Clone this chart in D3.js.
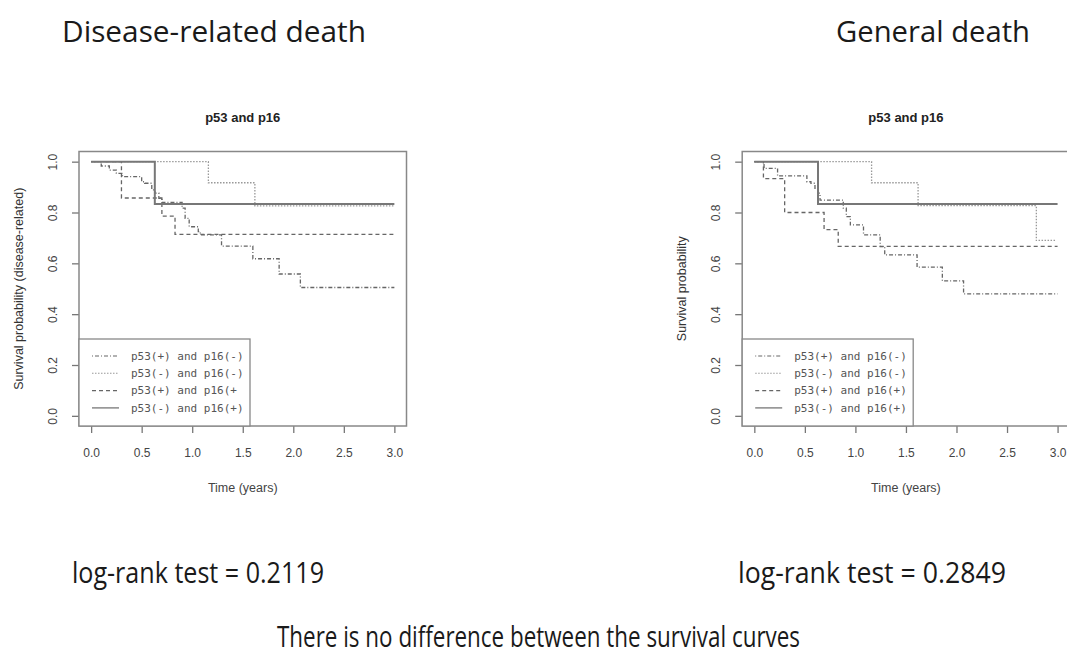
<!DOCTYPE html>
<html>
<head>
<meta charset="utf-8">
<script src="https://cdn.jsdelivr.net/npm/d3@7"></script>
<style>
body { margin: 0; background: #fff; }
svg { display: block; }
</style>
</head>
<body>
<svg id="chart" width="1067" height="655"></svg>
<script>
var d3 = window.d3;

// axis ticks
var timeTicks = [0, 0.5, 1, 1.5, 2, 2.5, 3];
var survTicks = [0, 0.2, 0.4, 0.6, 0.8, 1];

// legend labels (left one has the cut third label, as in the original)
var legendLeft = ['p53(+) and p16(-)', 'p53(-) and p16(-)', 'p53(+) and p16(+', 'p53(-) and p16(+)'];
var legendRight = ['p53(+) and p16(-)', 'p53(-) and p16(-)', 'p53(+) and p16(+)', 'p53(-) and p16(+)'];

// disease-related death: Kaplan-Meier steps (time in years, survival)
var drPosNegTime = [0, 0.10, 0.18, 0.25, 0.31, 0.50, 0.53, 0.60, 0.63, 0.67, 0.70, 0.90, 0.93, 0.97, 1.06, 1.08, 1.29, 1.60, 1.86, 2.07, 3.0];
var drPosNegSurv = [1, 0.983, 0.967, 0.954, 0.941, 0.921, 0.915, 0.889, 0.876, 0.856, 0.84, 0.817, 0.777, 0.744, 0.725, 0.712, 0.668, 0.618, 0.558, 0.505, 0.505];
var drNegNegTime = [0, 1.16, 1.62, 3.0];
var drNegNegSurv = [1, 0.917, 0.826, 0.826];
var drPosPosTime = [0, 0.30, 0.70, 0.83, 2.99];
var drPosPosSurv = [1, 0.857, 0.786, 0.714, 0.714];
var drNegPosTime = [0, 0.63, 3.0];
var drNegPosSurv = [1, 0.833, 0.833];

// general death
var gdPosNegTime = [0, 0.096, 0.23, 0.52, 0.56, 0.60, 0.63, 0.65, 0.88, 0.91, 0.95, 1.08, 1.245, 1.29, 1.61, 1.86, 2.07, 3.0];
var gdPosNegSurv = [1, 0.974, 0.944, 0.921, 0.915, 0.895, 0.876, 0.849, 0.817, 0.784, 0.751, 0.712, 0.666, 0.633, 0.585, 0.531, 0.48, 0.48];
var gdNegNegTime = [0, 1.16, 1.62, 2.79, 2.99];
var gdNegNegSurv = [1, 0.917, 0.827, 0.69, 0.69];
var gdPosPosTime = [0, 0.09, 0.30, 0.69, 0.83, 3.0];
var gdPosPosSurv = [1, 0.933, 0.80, 0.733, 0.667, 0.667];
var gdNegPosTime = [0, 0.63, 3.0];
var gdNegPosSurv = [1, 0.833, 0.833];

// R lty 4, 3, 2, 1
var lineStyles = [
  { dash: '1,2,4,2', width: 1.3, color: '#666' },
  { dash: '1.5,1.5', width: 1.3, color: '#999' },
  { dash: '4,3', width: 1.3, color: '#666' },
  { dash: null, width: 2, color: '#777' }
];

var svg = d3.select('#chart');

function drawPanel(opts) {
  var g = svg.append('g')
    .attr('transform', 'translate(' + opts.left + ',' + opts.top + ')');

  // R pads the data range by 4%
  var x = d3.scaleLinear().domain([-0.12, 3.12]).range([0, opts.width]);
  var y = d3.scaleLinear().domain([-0.04, 1.04]).range([opts.height, 0]);

  var line = d3.line()
    .x(function(d) { return x(d[0]); })
    .y(function(d) { return y(d[1]); })
    .curve(d3.curveStepAfter);

  g.selectAll('path.km')
    .data(opts.series)
    .enter().append('path')
    .attr('class', 'km')
    .attr('fill', 'none')
    .attr('d', function(d) { return line(d3.zip(d.time, d.surv)); })
    .attr('stroke', function(d, i) { return lineStyles[i].color; })
    .attr('stroke-width', function(d, i) { return lineStyles[i].width; })
    .attr('stroke-dasharray', function(d, i) { return lineStyles[i].dash; });

  var yAxis = g.append('g')
    .call(d3.axisLeft(y).tickValues(survTicks).tickSize(7).tickFormat(d3.format('.1f')));
  var xAxis = g.append('g')
    .attr('transform', 'translate(0,' + opts.height + ')')
    .call(d3.axisBottom(x).tickValues(timeTicks).tickSize(7).tickPadding(15).tickFormat(d3.format('.1f')));

  [yAxis, xAxis].forEach(function(a) {
    a.select('.domain').remove();
    a.selectAll('.tick line').attr('stroke', '#777').attr('stroke-width', 1.3);
    a.selectAll('.tick text')
      .attr('fill', '#444')
      .style('font-family', '"Liberation Sans", Arial, sans-serif')
      .style('font-size', '12px');
  });
  yAxis.selectAll('.tick text')
    .attr('x', 0).attr('dy', 0)
    .attr('text-anchor', 'middle')
    .attr('transform', 'translate(-22,0) rotate(-90)');

  g.append('rect')
    .attr('width', opts.width).attr('height', opts.height)
    .attr('fill', 'none').attr('stroke', '#888').attr('stroke-width', 1.5);

  // legend, bottom-left
  var leg = g.append('g').attr('transform', 'translate(0,' + (opts.height - 87) + ')');
  leg.append('rect')
    .attr('width', 171).attr('height', 87)
    .attr('fill', '#fff').attr('stroke', '#888').attr('stroke-width', 1.3);
  var rows = leg.selectAll('g.row')
    .data(opts.labels)
    .enter().append('g')
    .attr('class', 'row')
    .attr('transform', function(d, i) { return 'translate(0,' + (17 + i * 17.3) + ')'; });
  rows.append('line')
    .attr('x1', 13).attr('x2', 40)
    .attr('stroke', function(d, i) { return lineStyles[i].color; })
    .attr('stroke-width', function(d, i) { return i === 3 ? 1.3 : 1.1; })
    .attr('stroke-dasharray', function(d, i) { return lineStyles[i].dash; });
  rows.append('text')
    .attr('x', 52).attr('dy', '0.35em')
    .attr('fill', '#555')
    .style('font-family', '"DejaVu Sans Mono", monospace')
    .style('font-size', '11px')
    .text(function(d) { return d; });

  g.append('text')
    .attr('x', x(1.5)).attr('y', -30)
    .attr('text-anchor', 'middle')
    .attr('fill', '#222')
    .style('font-family', '"Liberation Sans", Arial, sans-serif')
    .style('font-size', '13px').style('font-weight', 'bold')
    .text('p53 and p16');

  g.append('text')
    .attr('x', x(1.5)).attr('y', opts.height + 66)
    .attr('text-anchor', 'middle')
    .attr('fill', '#444')
    .style('font-family', '"Liberation Sans", Arial, sans-serif')
    .style('font-size', '12.5px')
    .text('Time (years)');

  g.append('text')
    .attr('transform', 'translate(-56,' + (opts.height / 2) + ') rotate(-90)')
    .attr('text-anchor', 'middle')
    .attr('fill', '#333')
    .style('font-family', '"Liberation Sans", Arial, sans-serif')
    .style('font-size', '12.5px')
    .text(opts.ylabel);
}

drawPanel({
  left: 79, top: 151.5, width: 327.5, height: 274.5,
  ylabel: 'Survival probability (disease-related)',
  labels: legendLeft,
  series: [
    { time: drPosNegTime, surv: drPosNegSurv },
    { time: drNegNegTime, surv: drNegNegSurv },
    { time: drPosPosTime, surv: drPosPosSurv },
    { time: drNegPosTime, surv: drNegPosSurv }
  ]
});

drawPanel({
  left: 742.2, top: 151.5, width: 327.5, height: 274.5,
  ylabel: 'Survival probability',
  labels: legendRight,
  series: [
    { time: gdPosNegTime, surv: gdPosNegSurv },
    { time: gdNegNegTime, surv: gdNegNegSurv },
    { time: gdPosPosTime, surv: gdPosPosSurv },
    { time: gdNegPosTime, surv: gdNegPosSurv }
  ]
});

// slide text around the two plots
var notes = [
  { text: 'Disease-related death', x: 62, y: 42, w: 304 },
  { text: 'General death', x: 836, y: 42, w: 194 },
  { text: 'log-rank test = 0.2119', x: 72, y: 583, w: 252 },
  { text: 'log-rank test = 0.2849', x: 738, y: 583, w: 268 },
  { text: 'There is no difference between the survival curves', x: 277, y: 647, w: 523 }
];
svg.selectAll('text.note')
  .data(notes)
  .enter().append('text')
  .attr('class', 'note')
  .attr('x', function(d) { return d.x; })
  .attr('y', function(d) { return d.y; })
  .attr('textLength', function(d) { return d.w; })
  .attr('lengthAdjust', 'spacingAndGlyphs')
  .attr('fill', '#1a1a1a')
  .style('font-family', '"Open Sans", sans-serif')
  .style('font-size', '29px')
  .text(function(d) { return d.text; });
</script>
</body>
</html>
